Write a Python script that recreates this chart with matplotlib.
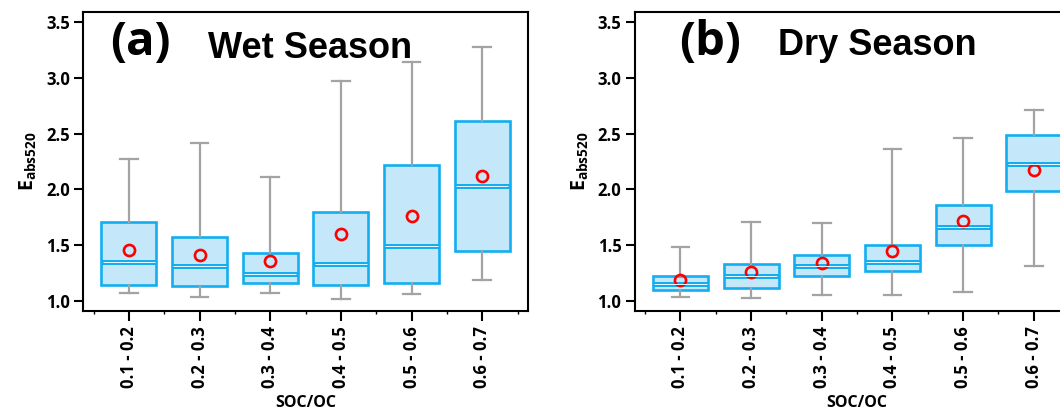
import matplotlib
matplotlib.use("Agg")
import matplotlib.pyplot as plt
from matplotlib.ticker import FixedLocator, FormatStrFormatter

plt.rcParams["font.family"] = ["Open Sans", "DejaVu Sans"]
plt.rcParams["font.weight"] = "bold"
plt.rcParams["mathtext.fontset"] = "custom"
plt.rcParams["mathtext.rm"] = "Open Sans:bold"
plt.rcParams["mathtext.bf"] = "Open Sans:bold"

# -------------------------------
# data
# -------------------------------
categories = ["0.1 - 0.2", "0.2 - 0.3", "0.3 - 0.4", "0.4 - 0.5", "0.5 - 0.6", "0.6 - 0.7"]

wet_whislo = [1.07, 1.04, 1.07, 1.02, 1.06, 1.19]
wet_q1 = [1.14, 1.13, 1.16, 1.14, 1.16, 1.45]
wet_med = [1.35, 1.31, 1.24, 1.33, 1.49, 2.03]
wet_q3 = [1.71, 1.57, 1.43, 1.80, 2.22, 2.61]
wet_whishi = [2.27, 2.42, 2.11, 2.97, 3.14, 3.28]
wet_mean = [1.46, 1.41, 1.36, 1.60, 1.76, 2.12]

dry_whislo = [1.04, 1.03, 1.05, 1.05, 1.08, 1.31]
dry_q1 = [1.10, 1.12, 1.22, 1.27, 1.50, 1.99]
dry_med = [1.15, 1.22, 1.31, 1.35, 1.66, 2.23]
dry_q3 = [1.22, 1.33, 1.41, 1.50, 1.86, 2.49]
dry_whishi = [1.48, 1.71, 1.70, 2.36, 2.46, 2.71]
dry_mean = [1.19, 1.26, 1.34, 1.45, 1.72, 2.17]

BOX_EDGE = "#12AEF0"
BOX_FILL = "#C4E8FA"
WHISK = "#A3A3A3"


def make_stats(lo, q1, med, q3, hi, mean):
    stats = []
    for i in range(len(med)):
        stats.append({"whislo": lo[i], "q1": q1[i], "med": med[i], "q3": q3[i],
                      "whishi": hi[i], "mean": mean[i], "fliers": []})
    return stats


def draw_panel(ax, stats, letter, title, letter_x, title_x, title_y):
    pos = list(range(1, len(stats) + 1))
    ax.bxp(stats, positions=pos, widths=0.78, patch_artist=True, showmeans=True,
           showfliers=False, capwidths=0.25,
           boxprops=dict(facecolor=BOX_FILL, edgecolor=BOX_EDGE, linewidth=1.9),
           medianprops=dict(color=BOX_EDGE, linewidth=3.6, solid_capstyle="butt"),
           whiskerprops=dict(color=WHISK, linewidth=1.6),
           capprops=dict(color=WHISK, linewidth=1.6),
           meanprops=dict(marker="o", markerfacecolor="none", markeredgecolor="#FF0000",
                          markeredgewidth=1.9, markersize=8))
    # thin light gap in the middle of the median line
    for p, s in zip(pos, stats):
        ax.plot([p - 0.37, p + 0.37], [s["med"], s["med"]], color="#EAF7FE", lw=0.7,
                solid_capstyle="butt", zorder=3)

    ax.set_xlim(0.35, 6.65)
    ax.set_ylim(0.91, 3.59)
    ax.set_xticks(pos)
    ax.set_xticklabels(categories, rotation=90, fontsize=12, fontweight="bold")
    ax.xaxis.set_minor_locator(FixedLocator([p + 0.5 for p in [0] + pos]))
    ax.set_yticks([1.0, 1.5, 2.0, 2.5, 3.0, 3.5])
    ax.yaxis.set_major_formatter(FormatStrFormatter("%.1f"))
    for lab in ax.get_yticklabels():
        lab.set_fontsize(12)
        lab.set_fontweight("bold")
    ax.tick_params(axis="y", which="major", length=6.5, width=1.5, direction="out", pad=3)
    ax.tick_params(axis="x", which="major", length=7.2, width=1.5, direction="out", pad=4)
    ax.tick_params(axis="x", which="minor", length=2.5, width=1.0, direction="out")
    for sp in ax.spines.values():
        sp.set_linewidth(1.5)
        sp.set_color("black")

    ax.set_xlabel("SOC/OC", fontsize=11.5, fontweight="bold", labelpad=5)
    ax.set_ylabel(r"$\mathrm{E_{abs520}}$", fontsize=14, labelpad=5)

    ax.text(letter_x, 0.855, letter, transform=ax.transAxes, ha="center", va="baseline",
            fontsize=34, fontweight="bold")
    ax.text(title_x, title_y, title, transform=ax.transAxes, ha="left", va="baseline",
            fontsize=26, fontweight="bold", family=["Liberation Sans", "DejaVu Sans"])


fig = plt.figure(figsize=(10.6, 4.2), dpi=100)
ax1 = fig.add_axes([0.0783, 0.2595, 0.42, 0.712])
ax2 = fig.add_axes([0.5986, 0.2595, 0.42, 0.712])

draw_panel(ax1, make_stats(wet_whislo, wet_q1, wet_med, wet_q3, wet_whishi, wet_mean),
           "(a)", "Wet Season", 0.130, 0.281, 0.846)
draw_panel(ax2, make_stats(dry_whislo, dry_q1, dry_med, dry_q3, dry_whishi, dry_mean),
           "(b)", "Dry Season", 0.170, 0.3225, 0.856)

fig.savefig("out.png", dpi=100)
